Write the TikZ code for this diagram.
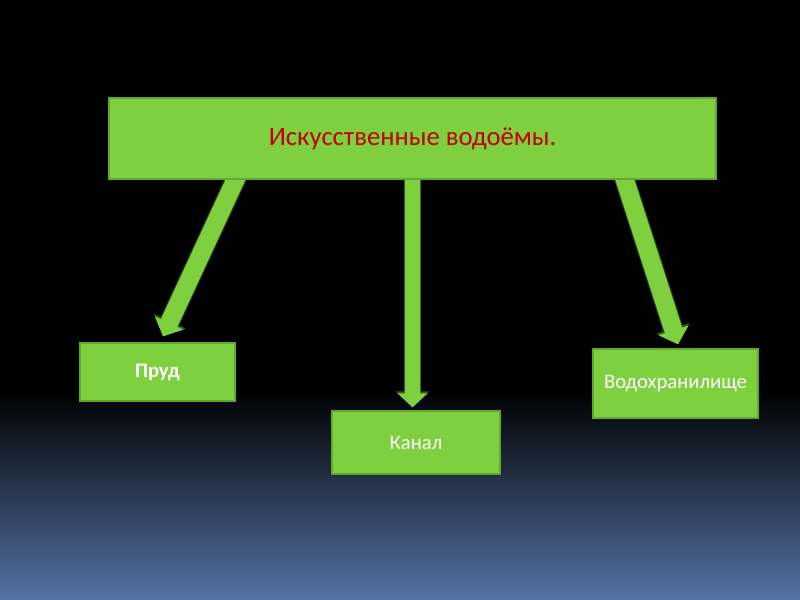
\documentclass[tikz,border=0pt]{standalone}
\usepackage{fontspec}
\setmainfont{Carlito}
\usetikzlibrary{arrows.meta}
\definecolor{boxgreen}{RGB}{126,208,62}
\definecolor{boxedge}{RGB}{98,168,48}
\definecolor{arrowedge}{RGB}{52,92,26}
\definecolor{titlered}{RGB}{192,0,0}
\definecolor{bottomblue}{RGB}{85,115,165}
\pgfdeclarelayer{bg}
\pgfdeclarelayer{arrowlayer}
\pgfsetlayers{bg,arrowlayer,main}
\begin{document}
\begin{tikzpicture}[x=0.75pt,y=-0.75pt]
\tikzstyle{every node}=[draw=boxedge,line width=1pt,fill=boxgreen,rectangle,text=white,font=\fontsize{15.5}{18}\selectfont]
\tikzstyle{bigarrow}=[draw=boxgreen,line width=11.25pt,-{Triangle[width=22pt,length=10.5pt]},
  preaction={draw=arrowedge,line width=12.75pt,-{Triangle[width=24.5pt,length=12pt]}}]
\tikzstyle{sidearrow}=[draw=boxgreen,line width=13.5pt,-{Triangle[width=23pt,length=11pt]},
  preaction={draw=arrowedge,line width=15pt,-{Triangle[width=25.5pt,length=12.5pt]}}]
\useasboundingbox (0,0) rectangle (800,600);
% background
\begin{pgfonlayer}{bg}
\fill[black] (0,0) rectangle (800,600);
\shade[top color=black,bottom color=bottomblue] (0,390) rectangle (800,600);
\end{pgfonlayer}
% boxes
\node[minimum width=455.25pt,minimum height=60.75pt,text=titlered,font=\fontsize{20}{24}\selectfont](top) at (412.5,138.5) {Искусственные водоёмы.};
\node[minimum width=116.25pt,minimum height=43.5pt,font=\fontsize{15.5}{18}\selectfont\bfseries](prud) at (157.5,372) {Пруд};
\node[minimum width=126pt,minimum height=47.25pt](kanal) at (416,442.5) {Канал};
\node[minimum width=123.75pt,minimum height=51.75pt](vodo) at (675.5,383.5) {Водохранилище};
% arrows
\begin{pgfonlayer}{arrowlayer}
\draw[sidearrow] ([xshift=-130.9pt,yshift=4pt]top.south) -- ([xshift=4.1pt,yshift=4.5pt]prud.north);
\draw[bigarrow] ([yshift=2pt]top.south) -- ([xshift=-2.6pt,yshift=2.25pt]kanal.north);
\draw[sidearrow] ([xshift=157.9pt,yshift=4pt]top.south) -- ([xshift=1.9pt,yshift=3pt]vodo.north);
\end{pgfonlayer}
\end{tikzpicture}
\end{document}
